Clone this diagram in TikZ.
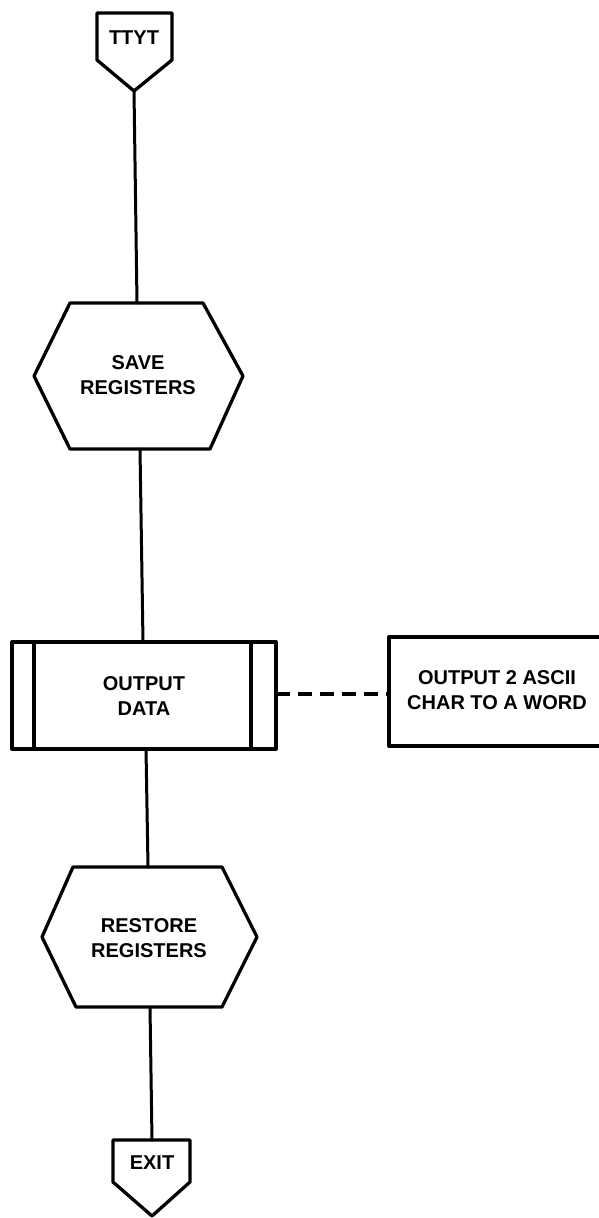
\documentclass[tikz,border=0pt]{standalone}
\usepackage{fontspec}
\setmainfont{Liberation Sans}
\begin{document}
\begin{tikzpicture}[x=1pt,y=-1pt,line join=round,line cap=round,
  shp/.style={line width=3.3pt},
  lbl/.style={font=\bfseries\fontsize{20}{25}\selectfont,align=center,inner sep=0pt},
  conn/.style={line width=3pt},
  dashconn/.style={line width=3.2pt,line cap=butt,dash pattern=on 14pt off 8pt}]
\useasboundingbox (0,0) rectangle (599,1218);
\clip (0,0) rectangle (599,1218);

% TTYT entry
\draw[shp] (97,13) -- (172,13) -- (172,60) -- (134,91) -- (97,60) -- cycle;
\coordinate (ttytout) at (134,91);
\node[lbl] (ttyt) at (134,38) {TTYT};

% SAVE REGISTERS
\draw[shp] (70,303) -- (203,303) -- (243,376) -- (210,449) -- (70,449) -- (34,376) -- cycle;
\coordinate (savein) at (137,303);
\coordinate (saveout) at (140,449);
\node[lbl] (save) at (138,375) {SAVE\\REGISTERS};

% OUTPUT DATA
\draw[shp] (12,642) rectangle (276,749);
\draw[shp] (34,642) -- (34,749);
\draw[shp] (251,642) -- (251,749);
\coordinate (outin) at (143,642);
\coordinate (outout) at (146,749);
\coordinate (outright) at (276,694);
\node[lbl] (outdata) at (144,696) {OUTPUT\\DATA};

% annotation
\draw[shp] (389,637) rectangle (606,746);
\coordinate (noteleft) at (389,694);
\node[lbl] (note) at (497,690) {OUTPUT 2 ASCII\\CHAR TO A WORD};

% RESTORE REGISTERS
\draw[shp] (73,867) -- (222,867) -- (257,937) -- (222,1007) -- (76,1007) -- (42,937) -- cycle;
\coordinate (restin) at (148,867);
\coordinate (restout) at (150,1007);
\node[lbl] (restore) at (149,938) {RESTORE\\REGISTERS};

% EXIT
\draw[shp] (113,1140) -- (190,1140) -- (190,1182) -- (152,1216) -- (113,1182) -- cycle;
\coordinate (exitin) at (152,1140);
\node[lbl] (exit) at (152,1163) {EXIT};

% connectors
\draw[conn] (ttytout) -- (savein);
\draw[conn] (saveout) -- (outin);
\draw[conn] (outout) -- (restin);
\draw[conn] (restout) -- (exitin);
\draw[dashconn] (outright) -- (noteleft);
\end{tikzpicture}
\end{document}
